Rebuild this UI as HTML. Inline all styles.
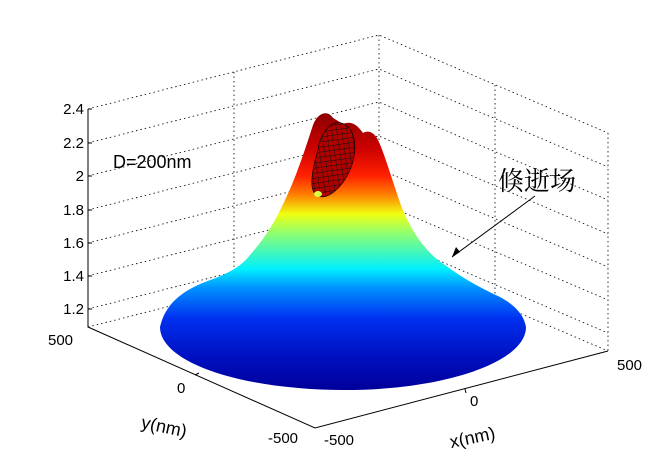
<!DOCTYPE html>
<html><head><meta charset="utf-8"><style>
html,body{margin:0;padding:0;background:#fff;width:663px;height:476px;overflow:hidden}
text{font-family:"Liberation Sans",sans-serif;font-size:15px;fill:#000}
</style></head><body>
<svg width="663" height="476" viewBox="0 0 663 476" xmlns="http://www.w3.org/2000/svg">
<defs>
<linearGradient id="jet" x1="0" y1="115" x2="0" y2="390" gradientUnits="userSpaceOnUse">
<stop offset="0" stop-color="#900000"/>
<stop offset="0.12" stop-color="#cc0000"/>
<stop offset="0.22" stop-color="#ff2000"/>
<stop offset="0.29" stop-color="#ff8000"/>
<stop offset="0.36" stop-color="#f0ff10"/>
<stop offset="0.43" stop-color="#90ff70"/>
<stop offset="0.56" stop-color="#00f0ff"/>
<stop offset="0.63" stop-color="#0090ff"/>
<stop offset="0.74" stop-color="#0030f0"/>
<stop offset="0.88" stop-color="#0010c0"/>
<stop offset="1" stop-color="#00009a"/>
</linearGradient>
<pattern id="mesh" width="5" height="5" patternUnits="userSpaceOnUse" patternTransform="rotate(-8)">
<rect width="5" height="5" fill="#b00000"/>
<path d="M0 0H5M0 0V5" stroke="#111" stroke-width="0.9"/>
</pattern>
</defs>
<g stroke="#000" stroke-width="0.8" stroke-dasharray="1.5,3" fill="none">
<path d="M88 109L379 35L608 133M379 35V253M608 133V351M234 72V290M495 85V303"/>
<path d="M88 143L379 69L608 167M88 176L379 102L608 200M88 210L379 136L608 234M88 243L379 169L608 267M88 276L379 202L608 300M88 309L379 235L608 333"/>
<path d="M88 327L379 253L608 351"/>
</g>
<path d="M160 327 C165 305 180 292 205 282 C225 275 240 268 250 255 C265 238 275 222 285 200 C295 180 305 150 313 125 C318 112 328 110 333 118 L343 124 C352 120 358 126 363 133 C368 130 374 132 378 140 C384 152 392 180 402 208 C412 232 425 252 445 265 C465 280 485 290 500 297 C515 305 524 315 526 327 C526 362 445 390 345 390 C240 390 160 362 160 327 Z" fill="url(#jet)"/>
<path d="M318 150 C320 133 332 118 344 124 C356 130 358 150 350 170 C342 188 328 200 318 196 C308 192 312 170 318 150Z" fill="url(#mesh)" stroke="#200" stroke-width="0.8"/>
<ellipse cx="318" cy="194" rx="4" ry="3" fill="#ddff40"/>
<g stroke="#000" stroke-width="1" fill="none">
<path d="M88 109V327L315 428L608 351"/>
<path d="M88 109h4M88 143h4M88 176h4M88 210h4M88 243h4M88 276h4M88 309h4"/>
<path d="M195 375l4-2M466 393l-1-4"/>
<path d="M535 196L452 257"/>
</g>
<path d="M452 257l4-10l4 5z" fill="#000"/>
<g text-anchor="end">
<text x="84" y="114">2.4</text><text x="84" y="148">2.2</text><text x="84" y="181">2</text>
<text x="84" y="215">1.8</text><text x="84" y="248">1.6</text><text x="84" y="281">1.4</text><text x="84" y="314">1.2</text>
</g>
<text x="48" y="345">500</text>
<text x="177" y="393">0</text>
<text x="268" y="443">-500</text>
<text x="324" y="445">-500</text>
<text x="470" y="406">0</text>
<text x="617" y="370">500</text>
<text x="140" y="432" style="font-size:18px" transform="rotate(12 160 432)">y(nm)</text>
<text x="450" y="443" style="font-size:18px" transform="rotate(-12 475 440)">x(nm)</text>
<text x="113" y="168" style="font-size:18px">D=200nm</text>
<text x="498" y="190" style="font-size:26px;font-family:'Liberation Serif','Noto Serif CJK SC',serif">倏逝场</text>
</svg>
</body></html>
